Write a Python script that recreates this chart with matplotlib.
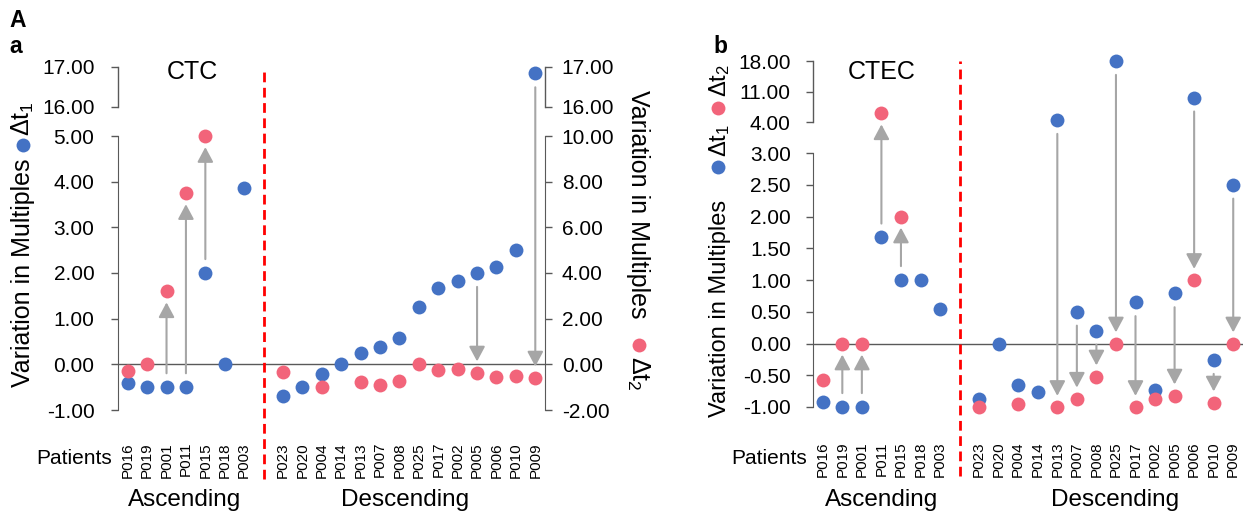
import numpy as np
import matplotlib.pyplot as plt
from matplotlib.lines import Line2D

plt.rcParams['font.family'] = ['Liberation Sans', 'DejaVu Sans']
plt.rcParams['mathtext.fontset'] = 'custom'
plt.rcParams['mathtext.rm'] = 'Liberation Sans'
plt.rcParams['mathtext.it'] = 'Liberation Sans:italic'

nan = np.nan

# Patients, in plotting order
ascending = ['P016', 'P019', 'P001', 'P011', 'P015', 'P018', 'P003']
descending = ['P023', 'P020', 'P004', 'P014', 'P013', 'P007', 'P008',
              'P025', 'P017', 'P002', 'P005', 'P006', 'P010', 'P009']

# a) CTC  (dt1 on left axis, dt2 on right axis)
ctc_dt1 = [-0.40, -0.50, -0.50, -0.50, 2.00, 0.00, 3.87,
           -0.70, -0.50, -0.22, 0.00, 0.25, 0.38, 0.58,
           1.26, 1.67, 1.82, 2.00, 2.13, 2.50, 16.84]
ctc_dt2 = [-0.30, 0.00, 3.20, 7.50, 10.00, nan, nan,
           -0.34, nan, -1.00, nan, -0.76, -0.92, -0.73,
           0.00, -0.25, -0.20, -0.36, -0.55, -0.50, -0.58]
ctc_arrows = ['P001', 'P011', 'P015', 'P005', 'P009']
ctc_left_ticks = [-1, 0, 1, 2, 3, 4, 5, 16, 17]
ctc_right_ticks = [-2, 0, 2, 4, 6, 8, 10, 16, 17]

# b) CTEC (both on one axis)
ctec_dt1 = [-0.92, -1.00, -1.00, 1.67, 1.00, 1.00, 0.55,
            -0.88, 0.00, -0.65, -0.77, 4.46, 0.50, 0.20,
            18.00, 0.65, -0.74, 0.79, 9.60, -0.26, 2.50]
ctec_dt2 = [-0.58, 0.00, 0.00, 6.00, 2.00, nan, nan,
            -1.00, nan, -0.96, nan, -1.00, -0.87, -0.52,
            0.00, -1.00, -0.88, -0.82, 1.00, -0.93, 0.00]
ctec_arrows = ['P019', 'P001', 'P011', 'P015', 'P013', 'P007', 'P008',
               'P025', 'P017', 'P005', 'P006', 'P010', 'P009']
ctec_ticks = [-1, -0.5, 0, 0.5, 1, 1.5, 2, 2.5, 3, 4, 11, 18]

BLUE = '#4472C4'
PINK = '#F2647A'
GREY = '#A6A6A6'
AXC = '#595959'
MS = 10

W, H = 1250, 517
patients = ascending + [''] + descending
xpos = np.arange(len(patients))
gap = len(ascending)


def with_gap(vals):
    return np.array(vals[:gap] + [nan] + vals[gap:], float)


def broken(vals, pix):
    # piecewise linear axis (axis break between segments)
    vals = np.asarray(vals, float)
    pix = np.asarray(pix, float)
    lo = (pix[1] - pix[0]) / (vals[1] - vals[0])
    hi = (pix[-1] - pix[-2]) / (vals[-1] - vals[-2])
    v = np.r_[vals[0] - 100, vals, vals[-1] + 100]
    p = np.r_[pix[0] - 100 * lo, pix, pix[-1] + 100 * hi]
    return (lambda y: np.interp(y, v, p), lambda u: np.interp(u, p, v))


def fx(px):
    return px / W


def fy(py):
    return 1 - py / H


def style(ax, side, ticks, lo, hi, brk, pad):
    for s in ['top', 'bottom', 'left', 'right']:
        ax.spines[s].set_visible(False)
    ax.spines[side].set_visible(True)
    ax.spines[side].set_color(AXC)
    ax.spines[side].set_bounds(lo, hi)
    ax.set_yticks(ticks, [f'{t:.2f}' for t in ticks])
    ax.tick_params(axis='y', length=5, width=1, color=AXC, pad=pad,
                   labelsize=15)
    xb = 0 if side == 'left' else 1
    ax.plot([xb, xb], brk, color=AXC, lw=1, clip_on=False,
            transform=ax.get_yaxis_transform())


def arrow(ax, x, y0, y1, coords=None):
    ax.annotate('', xy=(x, y1), xytext=(x, y0),
                textcoords=coords if coords is not None else 'data',
                arrowprops=dict(arrowstyle='-|>,head_length=0.6,head_width=0.32',
                                color=GREY, lw=1.5, shrinkA=10, shrinkB=8,
                                mutation_scale=15))


def xaxis(ax, pad):
    ax.set_xlim(-0.5, len(patients) - 0.5)
    ax.set_xticks(xpos, patients, rotation=90, fontsize=11)
    ax.tick_params(axis='x', length=0, pad=pad)
    ax.axhline(0, color=AXC, lw=1, zorder=1)
    ax.plot([gap, gap], [-0.2, 1.0], color='red', lw=2, dashes=(3.5, 2),
            clip_on=False, transform=ax.get_xaxis_transform())


fig = plt.figure(figsize=(W / 100, H / 100), dpi=100)

# ---------- panel a ----------
ax = fig.add_axes([fx(118), fy(410), fx(545 - 118), (410 - 67) / H])
ax.patch.set_visible(False)
ax.set_yscale('function', functions=broken([-1, 5, 16, 17], [0, 274, 303, 343]))
ax.set_ylim(-1, 17)
style(ax, 'left', ctc_left_ticks, -1, 5, [16, 17], 12)
xaxis(ax, 23)

ax2 = ax.twinx()
ax2.set_yscale('function', functions=broken([-2, 10, 16, 17], [0, 274, 303, 343]))
ax2.set_ylim(-2, 17)
style(ax2, 'right', ctc_right_ticks, -2, 10, [16, 17], 7)

ax.plot(xpos, with_gap(ctc_dt1), 'o', ms=MS, color=BLUE, mec='none',
        clip_on=False, zorder=3)
ax2.plot(xpos, with_gap(ctc_dt2), 'o', ms=MS, color=PINK, mec='none',
         clip_on=False, zorder=3)
for p in ctc_arrows:
    i = patients.index(p)
    j = (ascending + descending).index(p)
    arrow(ax2, i, ctc_dt1[j], ctc_dt2[j], coords=ax.transData)

# ---------- panel b ----------
bx = fig.add_axes([fx(813), fy(407), fx(1243 - 813), (407 - 61) / H])
bx.patch.set_visible(False)
bx.set_yscale('function', functions=broken([-1, 3, 4, 11, 18],
                                           [0, 254, 285, 315.5, 346]))
bx.set_ylim(-1, 18)
style(bx, 'left', ctec_ticks, -1, 3, [4, 18], 11)
xaxis(bx, 25)
for p in ctec_arrows:
    j = (ascending + descending).index(p)
    arrow(bx, patients.index(p), ctec_dt1[j], ctec_dt2[j])
bx.plot(xpos, with_gap(ctec_dt1), 'o', ms=MS, color=BLUE, mec='none',
        clip_on=False, zorder=3)
bx.plot(xpos, with_gap(ctec_dt2), 'o', ms=MS, color=PINK, mec='none',
        clip_on=False, zorder=3)


# ---------- texts ----------
def dot(px, py, c):
    fig.add_artist(Line2D([fx(px)], [fy(py)], marker='o', ms=MS, color=c,
                          mec='none', transform=fig.transFigure))


fig.text(fx(9), fy(27), 'A', fontsize=16.5, fontweight='bold')
fig.text(fx(9), fy(53), 'a', fontsize=16.5, fontweight='bold')
fig.text(fx(713), fy(53), 'b', fontsize=16.5, fontweight='bold')
fig.text(fx(192), fy(72), 'CTC', fontsize=18, ha='center', va='center')
fig.text(fx(882), fy(72), 'CTEC', fontsize=18, ha='center', va='center')

for x0, xc, y0 in [(112, 185, 459), (807, 882, 458)]:
    fig.text(fx(x0), fy(y0), 'Patients', fontsize=15, ha='right', va='center')
    fig.text(fx(xc), fy(500), 'Ascending', fontsize=17.5, ha='center', va='center')
fig.text(fx(405), fy(500), 'Descending', fontsize=17.5, ha='center', va='center')
fig.text(fx(1115), fy(500), 'Descending', fontsize=17.5, ha='center', va='center')

# y labels
fig.text(fx(23), fy(387), 'Variation in Multiples', fontsize=18, rotation=90,
         ha='center', va='bottom')
dot(23, 145, BLUE)
fig.text(fx(23), fy(136), r'$\Delta\mathrm{t}_{1}$', fontsize=18, rotation=90,
         ha='center', va='bottom')

fig.text(fx(638), fy(90), 'Variation in Multiples', fontsize=18, rotation=-90,
         ha='center', va='top')
dot(639, 345, PINK)
fig.text(fx(638), fy(356), r'$\Delta\mathrm{t}_{2}$', fontsize=18, rotation=-90,
         ha='center', va='top')

fig.text(fx(720), fy(417), 'Variation in Multiples', fontsize=17, rotation=90,
         ha='center', va='bottom')
dot(718, 167, BLUE)
fig.text(fx(720), fy(157), r'$\Delta\mathrm{t}_{1}$', fontsize=17, rotation=90,
         ha='center', va='bottom')
dot(718, 108, PINK)
fig.text(fx(720), fy(97), r'$\Delta\mathrm{t}_{2}$', fontsize=17, rotation=90,
         ha='center', va='bottom')

fig.savefig('out.png', dpi=100)
